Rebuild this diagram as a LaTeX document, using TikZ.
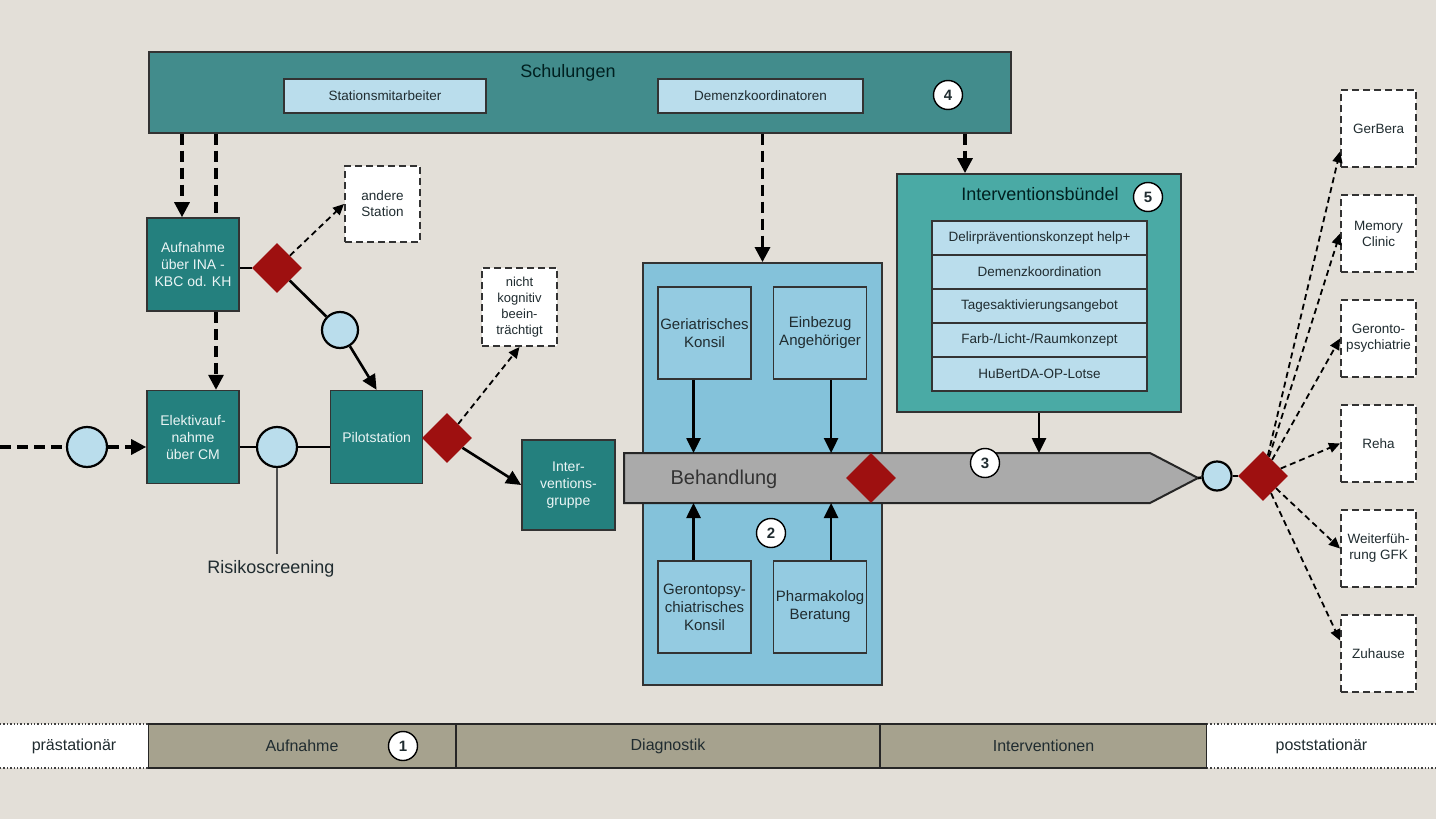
\documentclass[tikz,border=0pt]{standalone}
\usepackage{fontspec}
\setmainfont{Liberation Sans}
\usetikzlibrary{positioning,arrows.meta,shapes.geometric}

\definecolor{bgbeige}{RGB}{227,223,216}
\definecolor{tealdark}{RGB}{36,128,126}
\definecolor{tealmid}{RGB}{66,140,140}
\definecolor{teallight}{RGB}{74,170,165}
\definecolor{paleblue}{RGB}{186,221,236}
\definecolor{diagblue}{RGB}{132,194,218}
\definecolor{diagin}{RGB}{148,203,225}
\definecolor{decred}{RGB}{158,16,16}
\definecolor{phasegray}{RGB}{166,162,142}
\definecolor{bargray}{RGB}{170,170,170}
\definecolor{inktext}{RGB}{32,44,48}

\begin{document}
\begin{tikzpicture}[x=1pt, y=-1pt, font=\fontsize{14}{17}\selectfont, text=inktext,
    proc/.style={draw=black!80, line width=1.6pt, fill=tealdark, text=white!92!teal,
      minimum width=92pt, minimum height=93pt, inner sep=1pt, align=center},
    sub/.style={draw=black!80, line width=1.6pt, fill=diagin, minimum width=93pt,
      minimum height=92pt, inner sep=0pt, align=center, font=\fontsize{15}{18}\selectfont},
    train/.style={draw=black!80, line width=1.6pt, fill=paleblue, minimum height=34pt,
      inner sep=0pt, outer sep=0pt, font=\fontsize{13.5}{15}\selectfont},
    exit/.style={draw=black!80, dash pattern=on 7pt off 4pt, line width=2pt, fill=white,
      minimum width=75pt, minimum height=77pt, inner sep=0pt, align=center,
      font=\fontsize{13.5}{16}\selectfont},
    gate/.style={diamond, fill=decred, minimum width=50pt, minimum height=50pt, inner sep=0pt},
    evt/.style={circle, draw=black, line width=2.2pt, fill=paleblue, minimum size=38pt, inner sep=0pt},
    num/.style={circle, draw=black, line width=1.4pt, fill=white, minimum size=29pt,
      inner sep=0pt, font=\fontsize{15}{15}\selectfont\bfseries},
    phase/.style={draw=black!85, line width=2pt, fill=phasegray, minimum height=44pt,
      inner sep=0pt, outer sep=0pt, font=\fontsize{16}{16}\selectfont},
    outside/.style={fill=white, minimum height=44pt, inner sep=0pt, outer sep=0pt,
      font=\fontsize{16}{16}\selectfont},
    flow/.style={line width=2.6pt, -{Triangle[length=15pt,width=14pt]}},
    link/.style={line width=2.6pt},
    feed/.style={line width=3.2pt, dash pattern=on 11pt off 6pt, -{Triangle[length=15pt,width=15pt]}},
    opt/.style={line width=1.8pt, dash pattern=on 6pt off 4pt, -{Triangle[length=11pt,width=10pt]}}]
  \fill[bgbeige] (0,0) rectangle (1436,819);%
  \useasboundingbox (0,0) rectangle (1436,819);%

  % Schulungen
  \node[draw=black!80, line width=1.6pt, fill=tealmid, minimum width=862pt,
    minimum height=81pt, anchor=north west] (schul) at (148,51) {};%
  \node[font=\fontsize{18}{18}\selectfont, text=black!75!teal] (schultitle) at (568,73) {Schulungen};%
  \node[train, minimum width=202pt] (stat) at (385,96) {Stationsmitarbeiter};%
  \node[train, minimum width=205pt] (demk) at (760.5,96) {Demenzkoordinatoren};%
  \node[num] (n4) at (948,95) {4};%

  % Aufnahme
  \node[proc] (aufn) at (193,264.5) {Aufnahme\\über INA -\\KBC od. KH};%
  \node[proc] (elek) [below=78pt of aufn] {Elektivauf-\\nahme\\über CM};%
  \node[proc] (pilot) [right=90pt of elek] {Pilotstation};%
  \node[proc, minimum width=93pt, minimum height=90pt] (igrp) at (568.5,485) {Inter-\\ventions-\\gruppe};%
  \node[gate] (g1) at (277,268) {};%
  \node[evt, minimum size=36pt] (e3) at (340,330) {};%
  \node[evt, minimum size=40pt] (e1) at (87,447) {};%
  \node[evt, minimum size=40pt] (e2) at (277,447) {};%
  \node[gate] (g2) at (447,438) {};%
  \node[exit, minimum height=76pt] (andere) at (382.5,204) {andere\\Station};%
  \node[exit, minimum height=78pt, font=\fontsize{13}{16}\selectfont] (nicht) at (519.5,307)
    {nicht\\kognitiv\\beein-\\trächtigt};%
  \node[font=\fontsize{18}{18}\selectfont, inner sep=6pt, anchor=north] (risk) at (271,554) {Risikoscreening};%
  \coordinate (inflow) at (0,447);%

  % Diagnostik
  \node[draw=black!80, line width=1.8pt, fill=diagblue, minimum width=239pt,
    minimum height=422pt] (diag) at (762.5,474) {};%
  \node[sub] (gerk) at (704.5,333) {Geriatrisches\\Konsil};%
  \node[sub] (einb) [right=21pt of gerk] {Einbezug\\Angehöriger};%
  \node[sub] (geron) at (704.5,607) {Gerontopsy-\\chiatrisches\\Konsil};%
  \node[sub] (pharm) [right=21pt of geron] {Pharmakolog\\Beratung};%

  % Behandlung
  \node[minimum width=574pt, minimum height=50pt, inner sep=0pt, outer sep=0pt] (beh) at (911,478) {};%
  \draw[black!85, line width=2pt, fill=bargray, line join=miter] (beh.north west)
    -- ([xshift=-48pt]beh.north east) -- (beh.east) -- ([xshift=-48pt]beh.south east)
    -- (beh.south west) -- cycle;%
  \node[font=\fontsize{20}{20}\selectfont, text=black!80] (behlabel) at (724,479) {Behandlung};%
  \node[gate] (g3) at (871,478) {};%
  \node[num] (n3) at (985,463) {3};%
  \node[num] (n2) at (771,533) {2};%

  % Interventionsbuendel
  \node[draw=black!80, line width=1.8pt, fill=teallight, minimum width=284pt,
    minimum height=238pt] (bund) at (1039,293) {};%
  \node[font=\fontsize{18}{18}\selectfont, text=black!75!teal] (bundtitle) at (1040,194) {Interventionsbündel};%
  \node[num] (n5) at (1148,197) {5};%
  \node[train, minimum width=215pt] (m1) at (1039.5,238) {Delirpräventionskonzept help+};%
  \node[train, minimum width=215pt] (m2) [below=0pt of m1] {Demenzkoordination};%
  \node[train, minimum width=215pt] (m3) [below=0pt of m2] {Tagesaktivierungsangebot};%
  \node[train, minimum width=215pt] (m4) [below=0pt of m3] {Farb-/Licht-/Raumkonzept};%
  \node[train, minimum width=215pt] (m5) [below=0pt of m4] {HuBertDA-OP-Lotse};%

  % poststationaer
  \node[evt, minimum size=29pt] (e4) at (1217,476) {};%
  \node[gate] (g4) at (1263,476) {};%
  \node[exit] (gerb) at (1378.5,128.5) {GerBera};%
  \node[exit] (memo) [below=26pt of gerb] {Memory\\Clinic};%
  \node[exit] (gero) [below=26pt of memo] {Geronto-\\psychiatrie};%
  \node[exit] (reha) [below=26pt of gero] {Reha};%
  \node[exit] (weit) [below=26pt of reha] {Weiterfüh-\\rung GFK};%
  \node[exit] (zuha) [below=26pt of weit] {Zuhause};%

  % Zeitleiste
  \node[phase, minimum width=308pt, anchor=west] (p1) at (148,746) {Aufnahme};%
  \node[phase, minimum width=424pt] (p2) [right=0pt of p1] {Diagnostik};%
  \node[phase, minimum width=327pt] (p3) [right=0pt of p2] {Interventionen};%
  \node[outside, minimum width=148pt, anchor=east] (pre) at (p1.west) {prästationär};%
  \node[outside, minimum width=229pt] (post) [right=0pt of p3] {poststationär};%
  \draw[black!75, line width=1.4pt, dotted] (pre.north west) -- (pre.north east)
    (pre.south west) -- (pre.south east) (post.north west) -- (post.north east)
    (post.south west) -- (post.south east);%
  \node[num] (n1) at (403,746) {1};%

  % Verbindungen
  \draw[feed] ([xshift=-11pt]aufn.north |- schul.south) -- ([xshift=-11pt]aufn.north);%
  \draw[feed, -] ([xshift=23pt]aufn.north |- schul.south) -- ([xshift=23pt]aufn.north);%
  \draw[feed] ([xshift=23pt]aufn.south) -- ([xshift=23pt]elek.north);%
  \draw[feed] (diag.north |- schul.south) -- (diag.north);%
  \draw[feed] ([xshift=-74pt]bund.north |- schul.south) -- ([xshift=-74pt]bund.north);%
  \draw[link] (aufn.east |- g1) -- (g1);%
  \draw[opt] (g1) -- (andere.west);%
  \draw[link] (g1) -- (e3);%
  \draw[flow] (e3) -- (pilot.north);%
  \draw[feed, -] (inflow) -- (e1);%
  \draw[feed] (e1) -- (elek.west |- e1);%
  \draw[link] (elek.east |- e2) -- (e2);%
  \draw[link] (e2) -- (pilot.west |- e2);%
  \draw[black!70, line width=1.8pt] (e2) -- (e2 |- risk.north);%
  \draw[opt] (g2) -- (nicht.south);%
  \draw[flow] (g2) -- (igrp.west);%
  \draw[flow] ([xshift=-11pt]gerk.south) -- ([xshift=-11pt]gerk.south |- beh.north);%
  \draw[flow] ([xshift=11pt]einb.south) -- ([xshift=11pt]einb.south |- beh.north);%
  \draw[flow] ([xshift=-11pt]geron.north) -- ([xshift=-11pt]geron.north |- beh.south);%
  \draw[flow] ([xshift=11pt]pharm.north) -- ([xshift=11pt]pharm.north |- beh.south);%
  \draw[flow] (bund.south) -- (bund.south |- beh.north);%
  \draw[link] (beh.east) -- (e4);%
  \draw[link] (e4) -- (g4);%
  \path[opt] (g4) edge ([yshift=-23pt]gerb.west) edge (memo.west) edge (gero.west)
    edge (reha.west) edge (weit.west) edge ([yshift=13pt]zuha.west);%
\end{tikzpicture}
\end{document}
